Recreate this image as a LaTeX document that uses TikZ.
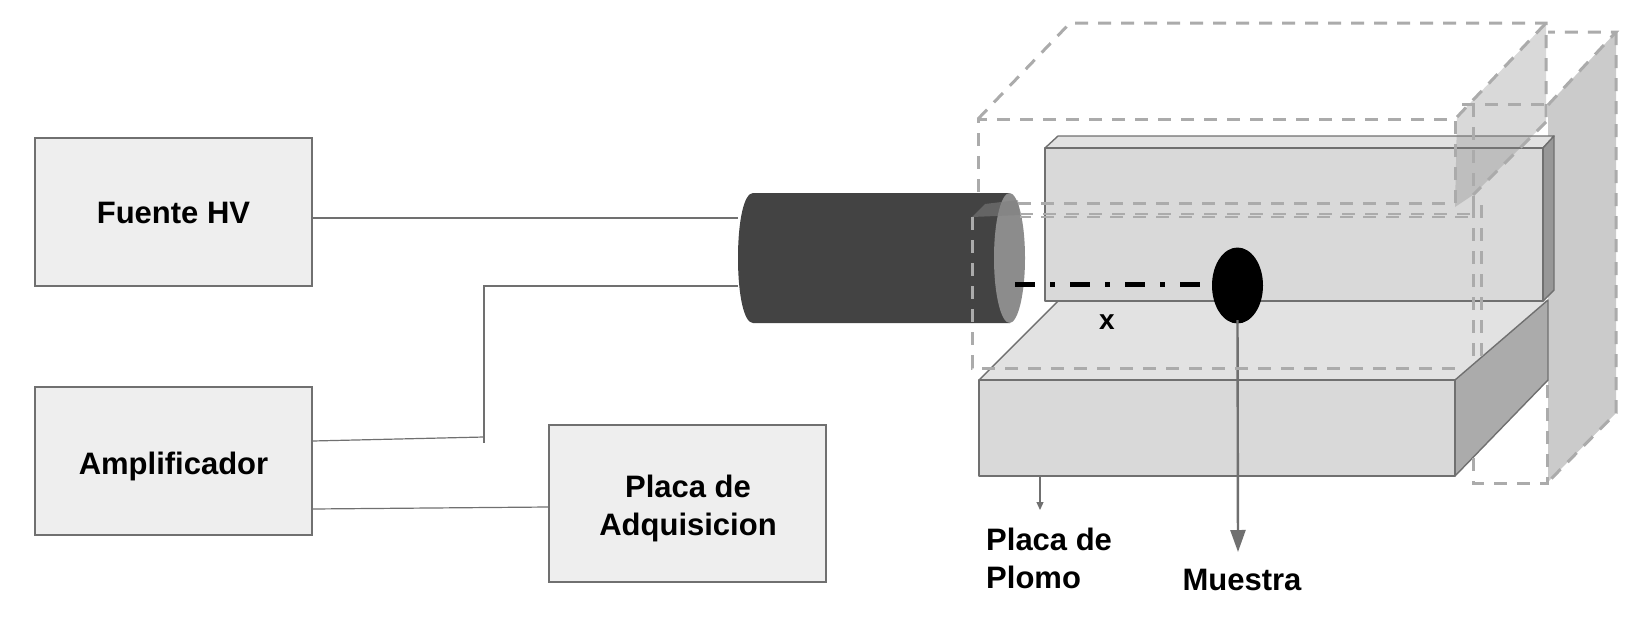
\documentclass[tikz,border=0pt]{standalone}
\usepackage{xcolor}
\usepackage{fontspec}
\setmainfont{Liberation Sans}
\usetikzlibrary{shapes,arrows,positioning,calc,arrows.meta}
\definecolor{linegray}{HTML}{707070}
\definecolor{dashgray}{HTML}{ABABAB}
\definecolor{boxgray}{HTML}{EEEEEE}
\definecolor{slabfront}{HTML}{D9D9D9}
\definecolor{slabtop}{HTML}{E2E2E2}
\definecolor{slabside}{HTML}{ABABAB}
\definecolor{slabedge}{HTML}{979797}
\definecolor{platefill}{HTML}{CBCBCB}
\definecolor{detbody}{HTML}{434343}
\definecolor{detface}{HTML}{8C8C8C}
\tikzset{
    blockbox/.style={draw=linegray, line width=1.2pt, fill=boxgray, inner sep=0pt},
    labeltext/.style={font=\bfseries\fontsize{31}{38}\selectfont, align=left, inner sep=0pt},
    wire/.style={draw=linegray, line width=1.2pt},
    slab/.style={draw=linegray, line width=1.4pt, line join=round},
    dashbox/.style={draw=dashgray, line width=3pt, dash pattern=on 13pt off 10pt},
}
\begin{document}
\begin{tikzpicture}[x=1pt, y=-1pt]
    \useasboundingbox (0,0) rectangle (1650,627);

    % Blocks
    \node [blockbox, minimum width=277pt, minimum height=148pt] (fuente) at (173.5,212) {};
    \node [blockbox, minimum width=277pt, minimum height=148pt] (ampli) at (173.5,461) {};
    \node [blockbox, minimum width=277pt, minimum height=157pt] (placa) at (687.5,503.5) {};
    \node [labeltext] (fuentetxt) at (173.5,213) {Fuente HV};
    \node [labeltext] (amplitxt) at (173.5,466) {Amplificador};
    \node [labeltext, align=center] (placatxt) at (688,508) {Placa de\\Adquisicion};

    % Back plate
    \fill [platefill] (1548,105) -- (1616,32) -- (1616,413) -- (1548,482) -- cycle;

    % Lead plate, lower
    \fill [slabtop] (979,380) -- (1058,301) -- (1548,300) -- (1455,380) -- cycle;
    \draw [slab] (979,380) -- (1058,301);
    \draw [slab, fill=slabside] (1455,380) -- (1548,300) -- (1548,380) -- (1455,476) -- cycle;
    \draw [slab, fill=slabfront] (979,380) rectangle (1455,476);

    % Lead plate, upper
    \draw [slab, fill=slabtop] (1045,148) -- (1058,136) -- (1554,136) -- (1543,148) -- cycle;
    \draw [slab, fill=slabedge] (1543,148) -- (1554,136) -- (1554,290) -- (1543,301) -- cycle;
    \draw [slab, fill=slabfront] (1045,148) rectangle (1543,301);

    % Detector
    \fill [detbody] (753,193) -- (1010,193) -- (1010,323) -- (753,323)
        .. controls (744,323) and (738,295) .. (738,258)
        .. controls (738,221) and (744,193) .. (753,193) -- cycle;
    \fill [detface] (1009.5,258) ellipse [x radius=15.5, y radius=65];
    \coordinate (detA) at (738,218);
    \coordinate (detB) at (738,286);
    \coordinate (detC) at (1015,284);

    % Connections
    \coordinate (codo) at (484,286);
    \coordinate (codoB) at (484,437);
    \draw [wire] (fuente.east |- detA) -- (detA);
    \draw [wire] (detB) -- (codo) -- ($(codoB)+(0,6)$);
    \draw [wire] (ampli.east |- 0,441) -- (codoB);
    \draw [wire] (ampli.east |- 0,509) -- (placa.west |- 0,507);

    % Sample
    \node [ellipse, fill=black, inner sep=0pt, minimum width=51pt, minimum height=76pt] (muestra) at (1237.5,285.5) {};
    \coordinate (muestraFin) at (1238,552);
    \draw [black, line width=5pt, dash pattern=on 20pt off 15pt on 5pt off 15pt] (detC) -- (1200,284);
    \draw [-{Triangle[length=22pt, width=15pt]}, draw=linegray, fill=linegray, line width=2.4pt] (1237.5,320) -- (muestraFin);
    \node [font=\bfseries\fontsize{28}{34}\selectfont, inner sep=0pt] (equis) at (1107,322) {x};

    % Dashed volumes
    \fill [gray, opacity=.3] (1457,117) -- (1546,23) -- (1546,122) -- (1473,195) -- (1455,207) -- cycle;
    \fill [gray, opacity=.55] (972,217) -- (985,204) -- (1018,200) -- (1020,215) -- cycle;
    \draw [dashbox] (1018,203) -- (1455,203) -- (1455,119) -- (978,119) -- (978,200);
    \draw [dashbox] (978,119) -- (1070,23) -- (1546,23) -- (1546,122);
    \draw [dashbox] (1457,117) -- (1546,23);
    \draw [dashbox] (1546,122) -- (1473,195);
    \draw [dashbox, line width=2.2pt] (1020,214) -- (1473,214);
    \draw [dashbox, line width=2.2pt, dash phase=2pt] (1020,217) -- (1473,217);
    \draw [dashbox] (972,217) -- (972,368) -- (1455,368);
    \draw [dashbox] (1462,104) -- (1547,104);
    \draw [dashbox] (1473,104) -- (1473,214);
    \draw [dashbox] (1473,205) -- (1473,483) -- (1547,483) -- (1547,380);
    \draw [dashbox] (1481,205) -- (1481,358);
    \draw [dashbox] (1548,105) -- (1616,32) -- (1548,32);
    \draw [dashbox] (1616,32) -- (1616,413) -- (1548,482);

    % Labels
    \coordinate (plomoFin) at (1040,510);
    \draw [-{Triangle[length=8pt, width=7pt]}, draw=linegray, fill=linegray, line width=1.2pt] (1040,476) -- (plomoFin);
    \node [labeltext, anchor=north west] (plomo) at (986,528) {Placa de\\Plomo};
    \node [labeltext] (muestratxt) at (1242,580) {Muestra};
\end{tikzpicture}
\end{document}
